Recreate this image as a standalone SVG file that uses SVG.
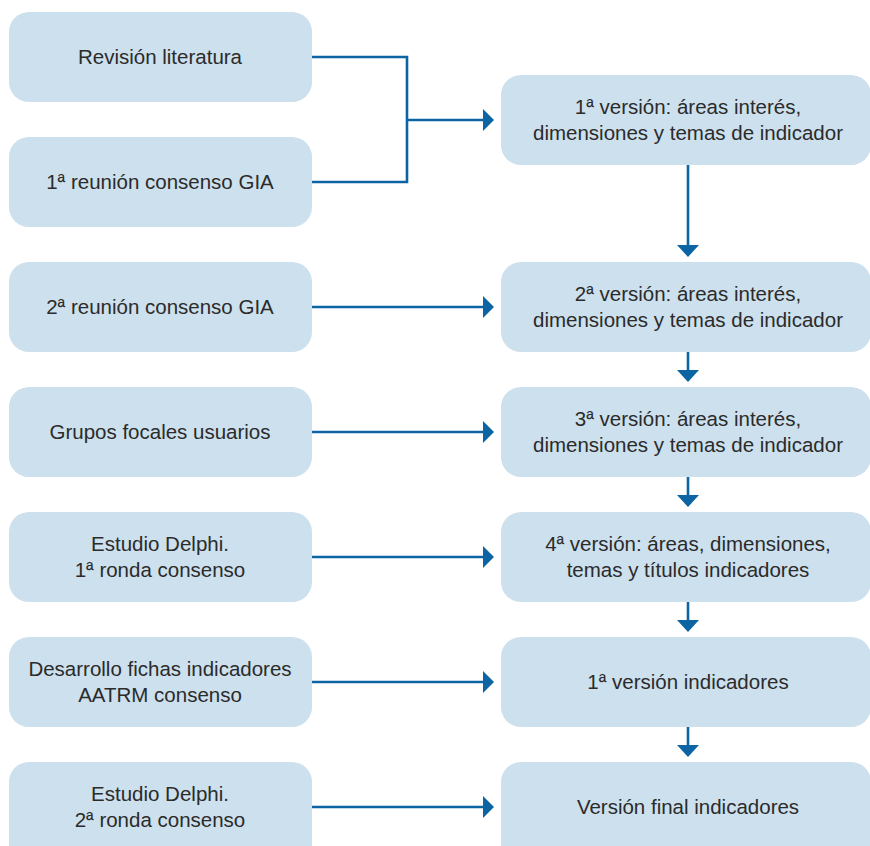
<svg xmlns="http://www.w3.org/2000/svg" width="870" height="846" viewBox="0 0 870 846">
<defs>
<style>
.box{fill:#cde0ed}
text{font-family:"Liberation Sans",Arial,sans-serif;font-size:20.5px;fill:#2b2b2b;text-anchor:middle}
.ln{stroke:#0c64a2;stroke-width:2.6;fill:none}
.ah{fill:#0c64a2}
</style>
</defs>
<rect width="870" height="846" fill="#fff"/>
<g id="n1"><rect class="box" x="9" y="12" width="303" height="90" rx="20"/><text x="160" y="64">Revisión literatura</text></g>
<g id="n2"><rect class="box" x="9" y="137" width="303" height="90" rx="20"/><text x="160" y="189">1ª reunión consenso GIA</text></g>
<g id="n3"><rect class="box" x="9" y="262" width="303" height="90" rx="20"/><text x="160" y="314">2ª reunión consenso GIA</text></g>
<g id="n4"><rect class="box" x="9" y="387" width="303" height="90" rx="20"/><text x="160" y="439">Grupos focales usuarios</text></g>
<g id="n5"><rect class="box" x="9" y="512" width="303" height="90" rx="20"/><text x="160" y="551">Estudio Delphi.</text><text x="160" y="577">1ª ronda consenso</text></g>
<g id="n6"><rect class="box" x="9" y="637" width="303" height="90" rx="20"/><text x="160" y="676">Desarrollo fichas indicadores</text><text x="160" y="702">AATRM consenso</text></g>
<g id="n7"><rect class="box" x="9" y="762" width="303" height="110" rx="20"/><text x="160" y="801">Estudio Delphi.</text><text x="160" y="827">2ª ronda consenso</text></g>
<g id="r1"><rect class="box" x="501" y="75" width="370" height="90" rx="20"/><text x="688" y="114">1ª versión: áreas interés,</text><text x="688" y="140">dimensiones y temas de indicador</text></g>
<g id="r2"><rect class="box" x="501" y="262" width="370" height="90" rx="20"/><text x="688" y="301">2ª versión: áreas interés,</text><text x="688" y="327">dimensiones y temas de indicador</text></g>
<g id="r3"><rect class="box" x="501" y="387" width="370" height="90" rx="20"/><text x="688" y="426">3ª versión: áreas interés,</text><text x="688" y="452">dimensiones y temas de indicador</text></g>
<g id="r4"><rect class="box" x="501" y="512" width="370" height="90" rx="20"/><text x="688" y="551">4ª versión: áreas, dimensiones,</text><text x="688" y="577">temas y títulos indicadores</text></g>
<g id="r5"><rect class="box" x="501" y="637" width="370" height="90" rx="20"/><text x="688" y="689">1ª versión indicadores</text></g>
<g id="r6"><rect class="box" x="501" y="762" width="370" height="110" rx="20"/><text x="688" y="814">Versión final indicadores</text></g>
<g id="connectors">
<path class="ln" d="M312 57H407V182H312M407 120H485"/>
<path class="ah" d="M483 109L494 120L483 131Z"/>
<path class="ln" d="M312 307H485"/><path class="ah" d="M483 296L494 307L483 318Z"/>
<path class="ln" d="M312 432H485"/><path class="ah" d="M483 421L494 432L483 443Z"/>
<path class="ln" d="M312 557H485"/><path class="ah" d="M483 546L494 557L483 568Z"/>
<path class="ln" d="M312 682H485"/><path class="ah" d="M483 671L494 682L483 693Z"/>
<path class="ln" d="M312 807H485"/><path class="ah" d="M483 796L494 807L483 818Z"/>
<path class="ln" d="M688 165V246"/><path class="ah" d="M677 245L688 257L699 245Z"/>
<path class="ln" d="M688 352V371"/><path class="ah" d="M677 370L688 382L699 370Z"/>
<path class="ln" d="M688 477V496"/><path class="ah" d="M677 495L688 507L699 495Z"/>
<path class="ln" d="M688 602V621"/><path class="ah" d="M677 620L688 632L699 620Z"/>
<path class="ln" d="M688 727V746"/><path class="ah" d="M677 745L688 757L699 745Z"/>
</g>
</svg>
